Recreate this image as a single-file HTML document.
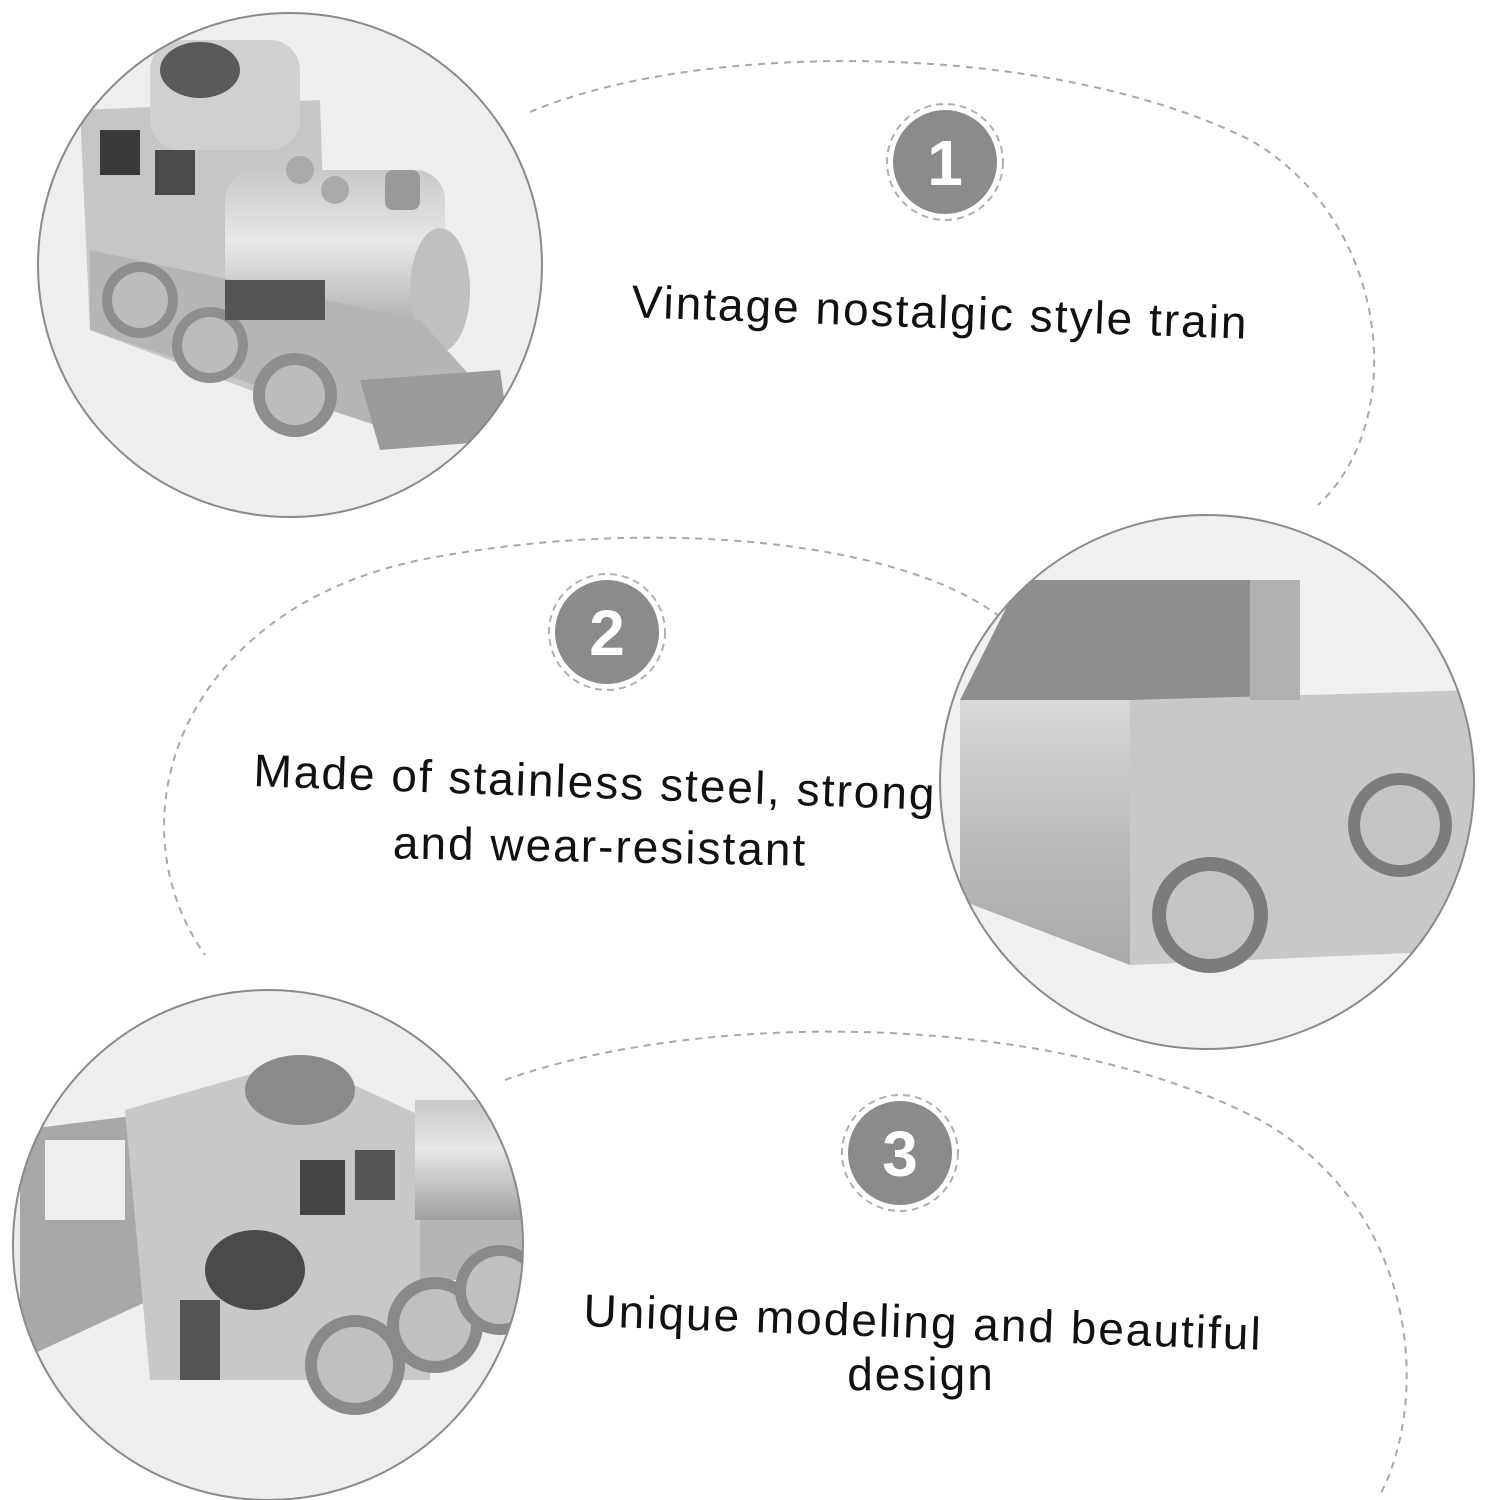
<!DOCTYPE html>
<html><head><meta charset="utf-8"><style>
html,body{margin:0;padding:0;background:#fff;}
svg{display:block}
text{font-family:"Liberation Sans",sans-serif;}
</style></head><body>
<svg width="1491" height="1500" viewBox="0 0 1491 1500" xmlns="http://www.w3.org/2000/svg">
<defs>
<linearGradient id="met" x1="0" y1="0" x2="0" y2="1"><stop offset="0" stop-color="#d8d8da"/><stop offset="0.5" stop-color="#bdbdbf"/><stop offset="1" stop-color="#a9a9ab"/></linearGradient>
<linearGradient id="tank" x1="0" y1="0" x2="0" y2="1"><stop offset="0" stop-color="#c8c8ca"/><stop offset="0.4" stop-color="#e8e8ea"/><stop offset="1" stop-color="#a0a0a2"/></linearGradient>
<clipPath id="c1"><circle cx="290" cy="265" r="252"/></clipPath>
<clipPath id="c2"><circle cx="1207" cy="782" r="267"/></clipPath>
<clipPath id="c3"><circle cx="268" cy="1245" r="255"/></clipPath>
</defs>

<g fill="none" stroke="#a8a8a8" stroke-width="2" stroke-dasharray="7 6">
<path d="M530 112 C 700 40, 1050 40, 1250 140 C 1390 220, 1410 420, 1318 505"/>
<path d="M1000 617 C 900 540, 650 515, 420 560 C 180 610, 110 820, 205 955"/>
<path d="M505 1080 C 700 1010, 1050 1010, 1260 1120 C 1420 1210, 1430 1400, 1380 1495"/>
</g>

<circle cx="290" cy="265" r="252" fill="#eeeef0"/>
<g clip-path="url(#c1)">
<polygon points="80,110 320,100 330,420 90,330" fill="#c6c6c8"/>
<rect x="150" y="40" width="150" height="110" rx="30" fill="#d0d0d2"/>
<ellipse cx="200" cy="70" rx="40" ry="28" fill="#5a5a5c"/>
<rect x="100" y="130" width="40" height="45" fill="#3a3a3a"/>
<rect x="155" y="150" width="40" height="45" fill="#4a4a4a"/>
<rect x="225" y="170" width="220" height="180" rx="30" fill="url(#tank)"/>
<ellipse cx="440" cy="290" rx="30" ry="62" fill="#c0c0c2"/>
<circle cx="300" cy="170" r="14" fill="#aaa"/><circle cx="335" cy="190" r="14" fill="#aaa"/>
<rect x="385" y="170" width="35" height="40" rx="8" fill="#999"/>
<polygon points="90,250 420,320 510,420 420,440 90,330" fill="#b5b5b7"/>
<polygon points="360,380 500,370 510,440 380,450" fill="#9a9a9c"/>
<circle cx="140" cy="300" r="38" fill="#8e8e90"/><circle cx="140" cy="300" r="28" fill="#bcbcbe"/>
<circle cx="210" cy="345" r="38" fill="#8e8e90"/><circle cx="210" cy="345" r="28" fill="#bcbcbe"/>
<circle cx="295" cy="395" r="42" fill="#8e8e90"/><circle cx="295" cy="395" r="30" fill="#bcbcbe"/>
<rect x="225" y="280" width="100" height="40" fill="#555"/>
</g>
<circle cx="290" cy="265" r="252" fill="none" stroke="#8a8a8a" stroke-width="2"/>

<circle cx="1207" cy="782" r="267" fill="#f0f0f2"/>
<g clip-path="url(#c2)">
<polygon points="960,700 1020,580 1300,580 1250,700" fill="#8e8e90"/>
<polygon points="960,700 1130,700 1130,965 960,900" fill="url(#met)"/>
<polygon points="1130,700 1480,690 1480,950 1130,965" fill="#c8c8ca"/>
<polygon points="1250,580 1300,580 1300,700 1250,700" fill="#b0b0b2"/>
<circle cx="1210" cy="915" r="58" fill="#7c7c7e"/><circle cx="1210" cy="915" r="44" fill="#c4c4c6"/>
<circle cx="1400" cy="825" r="52" fill="#7c7c7e"/><circle cx="1400" cy="825" r="40" fill="#c4c4c6"/>
</g>
<circle cx="1207" cy="782" r="267" fill="none" stroke="#8a8a8a" stroke-width="2"/>

<circle cx="268" cy="1245" r="255" fill="#eeeef0"/>
<g clip-path="url(#c3)">
<polygon points="20,1130 140,1115 150,1300 20,1360" fill="#a8a8aa"/>
<rect x="45" y="1140" width="80" height="80" fill="#eeeef0"/>
<polygon points="125,1110 300,1060 430,1120 430,1380 150,1380" fill="#c8c8ca"/>
<ellipse cx="300" cy="1090" rx="55" ry="35" fill="#8a8a8c"/>
<rect x="300" y="1160" width="45" height="55" fill="#444"/>
<rect x="355" y="1150" width="40" height="50" fill="#555"/>
<rect x="415" y="1100" width="120" height="120" fill="url(#tank)"/>
<rect x="420" y="1220" width="110" height="60" fill="#b5b5b7"/>
<rect x="180" y="1300" width="40" height="80" fill="#555"/>
<ellipse cx="255" cy="1270" rx="50" ry="40" fill="#4a4a4a"/>
<circle cx="355" cy="1365" r="50" fill="#8a8a8c"/><circle cx="355" cy="1365" r="38" fill="#c0c0c2"/>
<circle cx="435" cy="1325" r="48" fill="#8a8a8c"/><circle cx="435" cy="1325" r="36" fill="#c0c0c2"/>
<circle cx="500" cy="1290" r="45" fill="#8a8a8c"/><circle cx="500" cy="1290" r="34" fill="#c0c0c2"/>
</g>
<circle cx="268" cy="1245" r="255" fill="none" stroke="#8a8a8a" stroke-width="2"/>

<g>
<circle cx="945" cy="162" r="58" fill="none" stroke="#b0b0b0" stroke-width="2" stroke-dasharray="7 5"/>
<circle cx="945" cy="162" r="52" fill="#8b8b8b"/>
<text x="945" y="185" font-size="64" font-weight="bold" fill="#fff" text-anchor="middle">1</text>
<circle cx="607" cy="632" r="58" fill="none" stroke="#b0b0b0" stroke-width="2" stroke-dasharray="7 5"/>
<circle cx="607" cy="632" r="52" fill="#8b8b8b"/>
<text x="607" y="655" font-size="64" font-weight="bold" fill="#fff" text-anchor="middle">2</text>
<circle cx="900" cy="1153" r="58" fill="none" stroke="#b0b0b0" stroke-width="2" stroke-dasharray="7 5"/>
<circle cx="900" cy="1153" r="52" fill="#8b8b8b"/>
<text x="900" y="1176" font-size="64" font-weight="bold" fill="#fff" text-anchor="middle">3</text>
</g>

<g fill="#111" font-size="46" letter-spacing="2" text-anchor="middle">
<text x="940" y="328" transform="rotate(2 940 315)">Vintage nostalgic style train</text>
<text x="595" y="798" transform="rotate(2 595 785)">Made of stainless steel, strong</text>
<text x="600" y="862" transform="rotate(1 600 850)">and wear-resistant</text>
<text x="923" y="1338" transform="rotate(2 923 1325)">Unique modeling and beautiful</text>
<text x="921" y="1390">design</text>
</g>
</svg>
</body></html>
